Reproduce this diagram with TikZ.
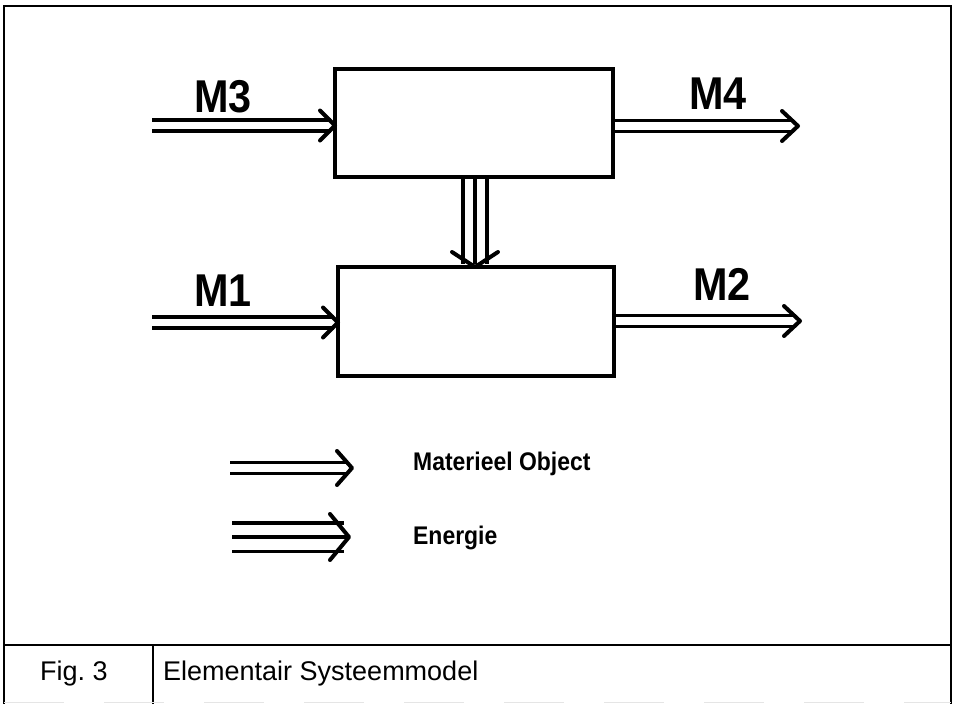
\documentclass[tikz,border=0pt]{standalone}
\usepackage{fontspec}
\setmainfont{Liberation Sans}
\begin{document}
\begin{tikzpicture}[x=1pt,y=-1pt,
  box/.style={draw, line width=3.5pt, rectangle, inner sep=0pt, outer sep=0pt, anchor=north west},
  matl/.style={double, double distance=7.5pt, line width=3.5pt},
  enl/.style={double, double distance=20.5pt, line width=3.5pt},
  cenl/.style={line width=3.5pt},
  barb/.style={line width=4pt, line cap=round, line join=round},
  lbl/.style={anchor=base west, inner sep=0pt, font=\fontsize{46}{46}\selectfont\bfseries, xscale=0.9},
  leg/.style={anchor=base west, inner sep=0pt, font=\fontsize{25.5}{26}\selectfont\bfseries, xscale=0.9},
  captext/.style={anchor=base west, inner sep=0pt, font=\fontsize{27}{28}\selectfont},
  frame/.style={line width=1.5pt}
]
\useasboundingbox (0,0) rectangle (954,704);

% frame
\draw[frame] (4,704) -- (4,6) -- (951,6) -- (951,704);
\draw[line width=2pt] (4,645) -- (951,645);
\draw[frame] (153,645) -- (153,704);
\draw[gray!20, line width=0.6pt, dash pattern=on 60pt off 40pt] (4,702) -- (951,702);

% boxes
\node[box, minimum width=278pt, minimum height=108pt] (top) at (335,69) {};
\node[box, minimum width=276pt, minimum height=109pt] (bot) at (338,267) {};

% M3
\coordinate (m3s) at (152,125.5);
\coordinate (m3t) at (top.west |- m3s);
\draw[matl, shorten >=4pt] (m3s) -- (m3t);
\draw[barb] ([shift={(-15,-15)}]m3t) -- (m3t) -- ([shift={(-15,15)}]m3t);
\node[lbl] (l3) at (194,112) {M3};

% M4
\coordinate (m4e) at (798,126);
\coordinate (m4s) at (top.east |- m4e);
\draw[matl, shorten <=1.75pt, shorten >=4pt] (m4s) -- (m4e);
\draw[barb] ([shift={(-16,-15)}]m4e) -- (m4e) -- ([shift={(-16,15)}]m4e);
\node[lbl] (l4) at (689,109) {M4};

% M1
\coordinate (m1s) at (152,322.5);
\coordinate (m1t) at (bot.west |- m1s);
\draw[matl, shorten >=4pt] (m1s) -- (m1t);
\draw[barb] ([shift={(-15,-15)}]m1t) -- (m1t) -- ([shift={(-15,15)}]m1t);
\node[lbl] (l1) at (194,306) {M1};

% M2
\coordinate (m2e) at (800,321);
\coordinate (m2s) at (bot.east |- m2e);
\draw[matl, shorten <=1.75pt, shorten >=4pt] (m2s) -- (m2e);
\draw[barb] ([shift={(-16,-15)}]m2e) -- (m2e) -- ([shift={(-16,15)}]m2e);
\node[lbl] (l2) at (693,300) {M2};

% energy top -> bottom
\coordinate (ex) at (475,0);
\coordinate (es) at (top.south -| ex);
\coordinate (et) at (bot.north -| ex);
\draw[enl, shorten <=1.75pt, shorten >=3pt] (es) -- (et);
\draw[cenl, shorten >=3pt] (es) -- (et);
\draw[barb] ([shift={(-23,-15)}]et) -- (et) -- ([shift={(23,-15)}]et);

% legend
\coordinate (lma) at (230,468);
\coordinate (lmb) at (352,468);
\draw[matl, shorten >=4pt] (lma) -- (lmb);
\draw[barb] ([shift={(-15,-17)}]lmb) -- (lmb) -- ([shift={(-15,17)}]lmb);
\node[leg] (tm) at (413,470) {Materieel Object};

\coordinate (lea) at (232,537);
\coordinate (leb) at (349,537);
\draw[enl, line width=3.5pt, double distance=25pt, shorten >=5pt] (lea) -- (leb);
\draw[cenl, line width=3.5pt, shorten >=3pt] (lea) -- (leb);
\draw[barb, line width=4pt] ([shift={(-19,-23)}]leb) -- (leb) -- ([shift={(-19,23)}]leb);
\node[leg] (te) at (413,544) {Energie};

% caption
\node[captext] (fig) at (40,680) {Fig.\ 3};
\node[captext] (title) at (163,680) {Elementair Systeemmodel};
\end{tikzpicture}
\end{document}
